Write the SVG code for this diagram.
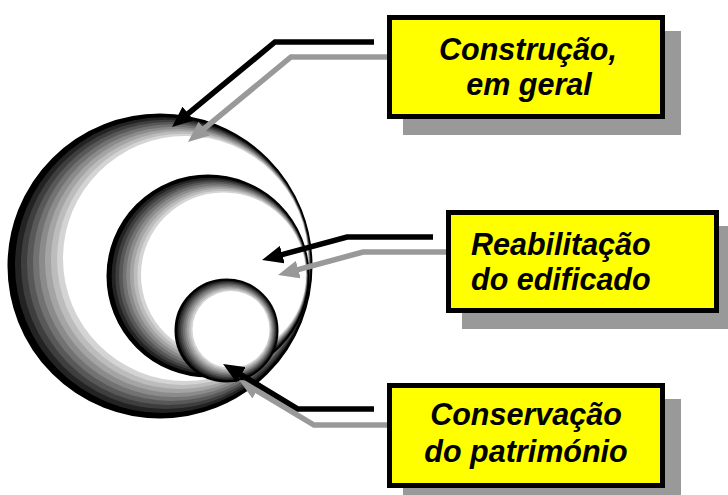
<svg xmlns="http://www.w3.org/2000/svg" width="728" height="495" viewBox="0 0 728 495">
<style>
.b0{fill:#000;stroke:#000;stroke-width:3}
.s0{fill:#000;stroke:#000;stroke-width:2}
.b1{fill:#232323}.b2{fill:#3e3e3e}.b3{fill:#585858}.b4{fill:#727272}
.b5{fill:#8b8b8b}.b6{fill:#a4a4a4}.b7{fill:#bcbcbc}.b8{fill:#d4d4d4}.b9{fill:#fff}
.cb{fill:none;stroke:#000;stroke-width:5.5;stroke-linejoin:miter}
.cg{fill:none;stroke:#999;stroke-width:5.5;stroke-linejoin:miter}
.box{fill:#ffff00;stroke:#000;stroke-width:5}
.shadow{fill:#999}
.lbl{font-family:"Liberation Sans",Arial,sans-serif;font-size:30.5px;font-weight:bold;font-style:italic;fill:#000}
</style>
<defs>
<marker id="ahb" viewBox="0 -9 21 18" refX="6" refY="0" markerWidth="21" markerHeight="18" markerUnits="userSpaceOnUse" orient="auto"><path d="M0,-9 L21,0 L0,9 Z" fill="#000"/></marker>
<marker id="ahg" viewBox="0 -9 21 18" refX="6" refY="0" markerWidth="21" markerHeight="18" markerUnits="userSpaceOnUse" orient="auto"><path d="M0,-9 L21,0 L0,9 Z" fill="#999"/></marker>
</defs>
<rect width="728" height="495" fill="#fff"/>
<g id="circle-construcao">
<circle class="b0" cx="160" cy="266" r="151"/>
<circle class="b1" cx="162.83" cy="265.17" r="147.83"/>
<circle class="b2" cx="165.67" cy="264.33" r="144.67"/>
<circle class="b3" cx="168.5" cy="263.5" r="141.5"/>
<circle class="b4" cx="171.33" cy="262.67" r="138.33"/>
<circle class="b5" cx="174.17" cy="261.83" r="135.17"/>
<circle class="b6" cx="177" cy="261" r="132"/>
<circle class="b7" cx="179.83" cy="260.17" r="128.83"/>
<circle class="b8" cx="182.67" cy="259.33" r="125.67"/>
<circle class="b9" cx="185.5" cy="258.5" r="122.5"/>
</g>
<g id="circle-reabilitacao">
<circle class="b0" cx="208" cy="276" r="100"/>
<circle class="b1" cx="209.72" cy="275.89" r="98.06"/>
<circle class="b2" cx="211.44" cy="275.78" r="96.11"/>
<circle class="b3" cx="213.17" cy="275.67" r="94.17"/>
<circle class="b4" cx="214.89" cy="275.56" r="92.22"/>
<circle class="b5" cx="216.61" cy="275.44" r="90.28"/>
<circle class="b6" cx="218.33" cy="275.33" r="88.33"/>
<circle class="b7" cx="220.06" cy="275.22" r="86.39"/>
<circle class="b8" cx="221.78" cy="275.11" r="84.44"/>
<circle class="b9" cx="223.5" cy="275" r="82.5"/>
</g>
<g id="circle-conservacao">
<circle class="s0" cx="226.5" cy="330.5" r="51"/>
<circle class="b1" cx="227" cy="330.39" r="49.61"/>
<circle class="b2" cx="227.5" cy="330.28" r="48.22"/>
<circle class="b3" cx="228" cy="330.17" r="46.83"/>
<circle class="b4" cx="228.5" cy="330.06" r="45.44"/>
<circle class="b5" cx="229" cy="329.94" r="44.06"/>
<circle class="b6" cx="229.5" cy="329.83" r="42.67"/>
<circle class="b7" cx="230" cy="329.72" r="41.28"/>
<circle class="b8" cx="230.5" cy="329.61" r="39.89"/>
<circle class="b9" cx="231" cy="329.5" r="38.5"/>
</g>
<g id="connectors">
<polyline class="cg" points="392,57 291,57 199.6,132.4" marker-end="url(#ahg)"/>
<polyline class="cg" points="450,252 363,252 292.5,271.1" marker-end="url(#ahg)"/>
<polyline class="cg" points="392,425 314,425 251.9,387.7" marker-end="url(#ahg)"/>
<polyline class="cb" points="374,42 275,42 183.6,117.4" marker-end="url(#ahb)"/>
<polyline class="cb" points="433,237 347,237 276.5,256.1" marker-end="url(#ahb)"/>
<polyline class="cb" points="374,409 298,409 235.9,371.7" marker-end="url(#ahb)"/>
</g>
<g id="box-construcao">
<rect class="shadow" x="403" y="31" width="278" height="104"/>
<rect class="box" x="389.5" y="17.5" width="273" height="99"/>
<text class="lbl" x="528" y="60" text-anchor="middle">Construção,</text>
<text class="lbl" x="529" y="95" text-anchor="middle">em geral</text>
</g>
<g id="box-reabilitacao">
<rect class="shadow" x="462" y="226" width="273" height="103"/>
<rect class="box" x="448.5" y="212.5" width="268" height="98"/>
<text class="lbl" x="471" y="255">Reabilitação</text>
<text class="lbl" x="471" y="290">do edificado</text>
</g>
<g id="box-conservacao">
<rect class="shadow" x="403" y="399" width="278" height="105"/>
<rect class="box" x="389.5" y="385.5" width="273" height="100"/>
<text class="lbl" x="526" y="425" text-anchor="middle">Conservação</text>
<text class="lbl" x="526" y="462" text-anchor="middle">do património</text>
</g>
</svg>
